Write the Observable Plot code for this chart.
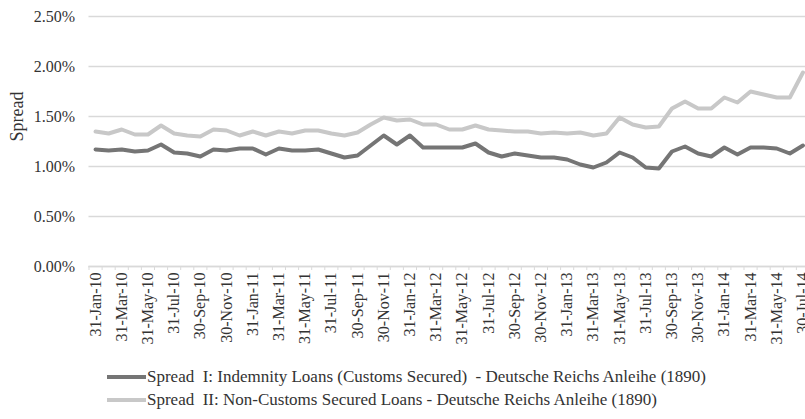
<!DOCTYPE html>
<html>
<head>
<meta charset="utf-8">
<script src="https://cdn.jsdelivr.net/npm/d3@7"></script>
<script src="https://cdn.jsdelivr.net/npm/@observablehq/plot@0.6"></script>
<style>
  html, body { margin: 0; padding: 0; background: #fff; overflow: hidden; }
  #chart svg { overflow: visible; max-width: none; }
  #chart svg text { font-family: "Liberation Serif", "Times New Roman", "DejaVu Serif", "Liberation Sans", sans-serif; }
  .legend { padding-top: 10px; font-family: "Liberation Serif", "Times New Roman", "DejaVu Serif", "Liberation Sans", sans-serif; font-size: 17px; color: #333; }
  .row { display: flex; align-items: center; height: 23px; margin-left: 107px; white-space: pre; }
  .sw { width: 39px; height: 4px; margin-right: 1px; }
</style>
</head>
<body>
<div id="chart"></div>
<div class="legend" id="legend"></div>
<script>
const dates = [
  "31-Jan-10","28-Feb-10","31-Mar-10","30-Apr-10","31-May-10","30-Jun-10","31-Jul-10","31-Aug-10","30-Sep-10","31-Oct-10","30-Nov-10","31-Dec-10",
  "31-Jan-11","28-Feb-11","31-Mar-11","30-Apr-11","31-May-11","30-Jun-11","31-Jul-11","31-Aug-11","30-Sep-11","31-Oct-11","30-Nov-11","31-Dec-11",
  "31-Jan-12","29-Feb-12","31-Mar-12","30-Apr-12","31-May-12","30-Jun-12","31-Jul-12","31-Aug-12","30-Sep-12","31-Oct-12","30-Nov-12","31-Dec-12",
  "31-Jan-13","28-Feb-13","31-Mar-13","30-Apr-13","31-May-13","30-Jun-13","31-Jul-13","31-Aug-13","30-Sep-13","31-Oct-13","30-Nov-13","31-Dec-13",
  "31-Jan-14","28-Feb-14","31-Mar-14","30-Apr-14","31-May-14","30-Jun-14","30-Jul-14"
];
// Spread I: Indemnity Loans (Customs Secured), in percent
const spreadI = [
  1.17,1.16,1.17,1.15,1.16,1.22,1.14,1.13,1.10,1.17,1.16,1.18,1.18,1.12,
  1.18,1.16,1.16,1.17,1.13,1.09,1.11,1.21,1.31,1.22,1.31,1.19,1.19,
  1.19,1.19,1.23,1.14,1.10,1.13,1.11,1.09,1.09,1.07,1.02,0.99,1.04,
  1.14,1.09,0.99,0.98,1.15,1.20,1.13,1.10,1.19,1.12,1.19,1.19,1.18,1.13,1.21
];
// Spread II: Non-Customs Secured Loans, in percent
const spreadII = [
  1.35,1.33,1.37,1.32,1.32,1.41,1.33,1.31,1.30,1.37,1.36,1.31,1.35,1.31,
  1.35,1.33,1.36,1.36,1.33,1.31,1.34,1.42,1.49,1.46,1.47,1.42,1.42,
  1.37,1.37,1.41,1.37,1.36,1.35,1.35,1.33,1.34,1.33,1.34,1.31,1.33,
  1.49,1.42,1.39,1.40,1.58,1.65,1.58,1.58,1.69,1.64,1.75,1.72,1.69,1.69,1.94
];
const seriesNames = [
  "Spread  I: Indemnity Loans (Customs Secured)  - Deutsche Reichs Anleihe (1890)",
  "Spread  II: Non-Customs Secured Loans - Deutsche Reichs Anleihe (1890)"
];
const seriesColors = ["#757575", "#c8c8c8"];
const yTicks = [0, 0.5, 1, 1.5, 2, 2.5];

const idx = dates.map((d, i) => i);

const chart = Plot.plot({
  width: 805,
  height: 355,
  marginLeft: 88.5,
  marginRight: -4,
  marginTop: 16,
  marginBottom: 89,
  style: { fontSize: "16px", color: "#333", background: "white" },
  x: { type: "linear", domain: [-0.5, dates.length - 0.5] },
  y: { domain: [0, 2.5] },
  marks: [
    Plot.gridY(yTicks, { stroke: "#d9d9d9", strokeOpacity: 1, strokeWidth: 1.3 }),
    Plot.axisY(yTicks, { tickSize: 0, tickPadding: 14, fontSize: 16, tickFormat: d => d.toFixed(2) + "%", label: null }),
    Plot.axisX(d3.range(-0.5, dates.length, 1), { tickSize: 4, stroke: "#d9d9d9", strokeOpacity: 1, tickFormat: () => "", label: null }),
    Plot.axisX(d3.range(0, dates.length, 2), { tickSize: 0, tickPadding: 6, tickRotate: -90, fontSize: 16, tickFormat: i => dates[i], label: null }),
    Plot.ruleY([0], { stroke: "#d9d9d9", strokeWidth: 1.3 }),
    Plot.line(idx, { x: i => i, y: i => spreadII[i], stroke: seriesColors[1], strokeWidth: 4, strokeLinejoin: "round", strokeLinecap: "round" }),
    Plot.line(idx, { x: i => i, y: i => spreadI[i], stroke: seriesColors[0], strokeWidth: 4, strokeLinejoin: "round", strokeLinecap: "round" }),
    Plot.text(["Spread"], { frameAnchor: "left", rotate: -90, dx: -72, fontSize: 18, fill: "#333" })
  ]
});
document.getElementById("chart").appendChild(chart);

const legend = document.getElementById("legend");
seriesNames.forEach((name, k) => {
  const row = document.createElement("div");
  row.className = "row";
  const sw = document.createElement("span");
  sw.className = "sw";
  sw.style.background = seriesColors[k];
  const t = document.createElement("span");
  t.textContent = name;
  row.appendChild(sw);
  row.appendChild(t);
  legend.appendChild(row);
});
</script>
</body>
</html>
